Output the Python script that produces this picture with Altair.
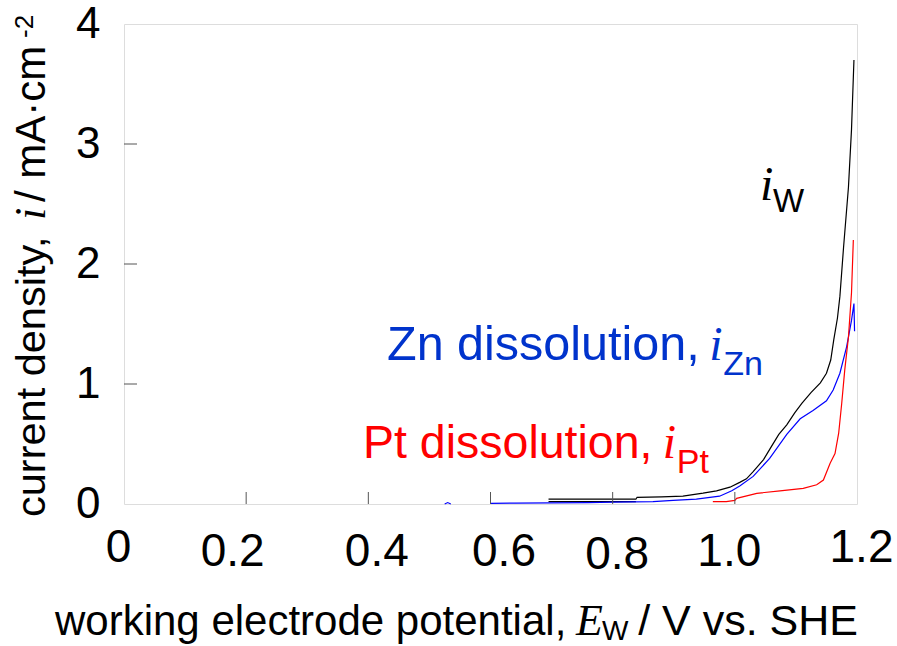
import altair as alt
import pandas as pd

# ---- data ----
w_E = [0.695, 0.838, 0.840, 0.880, 0.915, 0.948, 0.970, 0.992, 1.008, 1.019, 1.030, 1.047, 1.060,
       1.072, 1.085, 1.098, 1.110, 1.125, 1.140, 1.150, 1.157, 1.162, 1.168, 1.172, 1.178, 1.186,
       1.191, 1.195]
w_i = [0.04, 0.04, 0.056, 0.06, 0.065, 0.09, 0.11, 0.14, 0.18, 0.21, 0.27, 0.37, 0.48,
       0.58, 0.66, 0.76, 0.84, 0.93, 1.01, 1.09, 1.20, 1.37, 1.55, 1.73, 2.14, 2.64,
       3.12, 3.70]
w2_E = [0.695, 0.838]
w2_i = [0.02, 0.02]

zn_blip_E = [0.525, 0.530, 0.535]
zn_blip_i = [0.0, 0.012, 0.0]
zn_E = [0.600, 0.640, 0.700, 0.760, 0.800, 0.866, 0.899, 0.937, 0.975, 0.995, 1.008, 1.030, 1.057,
        1.085, 1.107, 1.128, 1.150, 1.161, 1.172, 1.183, 1.191, 1.195, 1.196]
zn_i = [0.005, 0.008, 0.010, 0.012, 0.015, 0.02, 0.03, 0.04, 0.065, 0.11, 0.15, 0.23, 0.38,
        0.58, 0.71, 0.78, 0.86, 0.95, 1.09, 1.31, 1.53, 1.67, 1.44]

pt_E = [0.964, 0.986, 1.000, 1.003, 1.036, 1.074, 1.112, 1.134, 1.145, 1.156, 1.164, 1.170, 1.175,
        1.180, 1.186, 1.191, 1.194]
pt_i = [0.02, 0.02, 0.03, 0.047, 0.089, 0.11, 0.13, 0.16, 0.20, 0.34, 0.42, 0.59, 0.84,
        1.12, 1.39, 1.76, 2.20]

x_ticks = [0, 0.2, 0.4, 0.6, 0.8, 1.0, 1.2]
y_ticks = [0, 1, 2, 3, 4]
series_names = ["iW", "iZn", "iPt"]
series_colors = ["#000000", "#0000FF", "#FF0000"]

rows = []
def add(E, I, s, seg):
    for k, (e, v) in enumerate(zip(E, I)):
        rows.append({"E": e, "i": v, "series": s, "seg": seg, "idx": k})

add(w2_E, w2_i, "iW", "w2")
add(zn_blip_E, zn_blip_i, "iZn", "zb")
add(zn_E, zn_i, "iZn", "z")
add(pt_E, pt_i, "iPt", "p")
add(w_E, w_i, "iW", "w")
df = pd.DataFrame(rows)

W, H = 733, 480
FONT = "Liberation Sans"
SERIF = "Liberation Serif"

xs = alt.Scale(domain=[0, 1.2], nice=False, zero=False)
ys = alt.Scale(domain=[0, 4], nice=False)

lines = alt.Chart(df).mark_line(strokeWidth=1.2).encode(
    x=alt.X("E:Q", scale=xs, axis=alt.Axis(
        values=x_ticks, grid=False, domain=False, ticks=False, tickSize=0,
        labelFont=FONT, labelFontSize=46, labelColor="black",
        labelBaseline="top", labelOverlap=False, labelBound=False, labelFlush=False,
        labelExpr="datum.value == 0 ? '0' : format(datum.value, '.1f')",
        labelPadding={"expr": "datum.value > 0.7 && datum.value < 0.9 ? 28 : ((datum.value < 0.1 || datum.value > 1.1) ? 21 : 25)"},
        labelOffset={"expr": "datum.value < 0.1 ? -6 : datum.value < 0.3 ? -14 : datum.value < 0.5 ? 8 : datum.value < 0.7 ? 13 : datum.value < 0.9 ? 4 : datum.value < 1.1 ? -6 : 4"},
        title=None)),
    y=alt.Y("i:Q", scale=ys, axis=alt.Axis(
        values=y_ticks, grid=False, domain=False, ticks=False, tickSize=0,
        labelFont=FONT, labelFontSize=44, labelColor="black", labelPadding=24,
        labelOverlap=False, labelBound=False, labelFlush=False, format="d", title=None)),
    color=alt.Color("series:N", scale=alt.Scale(domain=series_names, range=series_colors), legend=None),
    detail="seg:N",
    order=alt.Order("idx:Q"),
)

tick_df = pd.DataFrame({"v": x_ticks[1:-1]})
xt = alt.Chart(tick_df).mark_rule(color="#555555", strokeWidth=1).encode(
    x=alt.X("v:Q", scale=xs), y=alt.value(H), y2=alt.value(H - 12))
ytick_df = pd.DataFrame({"v": y_ticks[1:-1]})
yt = alt.Chart(ytick_df).mark_rule(color="#555555", strokeWidth=1).encode(
    y=alt.Y("v:Q", scale=ys), x=alt.value(0), x2=alt.value(13))

one = alt.InlineData(values=[{"a": 1}])

def txt(text, x, y, size, color="black", font=FONT, style="normal", align="left", angle=0, data_coords=True):
    m = alt.Chart(one).mark_text(text=text, font=font, fontSize=size, fontStyle=style, color=color,
                                 align=align, baseline="alphabetic", angle=angle)
    if data_coords:
        return m.encode(x=alt.X(datum=x, scale=xs), y=alt.Y(datum=y, scale=ys))
    return m.encode(x=alt.value(x), y=alt.value(y))

layers = [lines, xt, yt]
# annotations (data coordinates)
layers += [
    txt("Zn dissolution,", 0.4306, 1.20, 48.5, "#0033CC"),
    txt("i", 0.958, 1.20, 48, "#0033CC", font=SERIF, style="italic"),
    txt("Zn", 0.981, 1.075, 34, "#0033CC"),
    txt("Pt dissolution,", 0.3913, 0.383, 46.5, "#FF0000"),
    txt("i", 0.882, 0.383, 48, "#FF0000", font=SERIF, style="italic"),
    txt("Pt", 0.905, 0.258, 34, "#FF0000"),
    txt("i", 1.041, 2.533, 48, "black", font=SERIF, style="italic"),
    txt("W", 1.0625, 2.433, 33, "black"),
]
# axis titles (pixel positions relative to plot area)
layers += [
    txt("working electrode potential,", -69, 611, 42, data_coords=False),
    txt("E", 452, 611, 44, font=SERIF, style="italic", data_coords=False),
    txt("W", 478, 616, 28, data_coords=False),
    txt("/ V vs. SHE", 734, 611, 43, align="right", data_coords=False),
    txt("current density,", -79, 493, 41.5, angle=270, data_coords=False),
    txt("i", -79, 196, 44, font=SERIF, style="italic", angle=270, data_coords=False),
    txt(" / mA·cm", -79, 178, 42, angle=270, data_coords=False),
    txt("-2", -91, 14, 26, angle=270, data_coords=False),
]

chart = alt.layer(*layers).properties(
    width=W, height=H,
    autosize=alt.AutoSizeParams(type="none"),
    padding={"left": 124, "top": 24, "right": 40, "bottom": 142},
).configure_view(stroke="black", strokeWidth=2).configure(background="white")

chart.save("out.html", embed_options={"renderer": "svg", "actions": False})
